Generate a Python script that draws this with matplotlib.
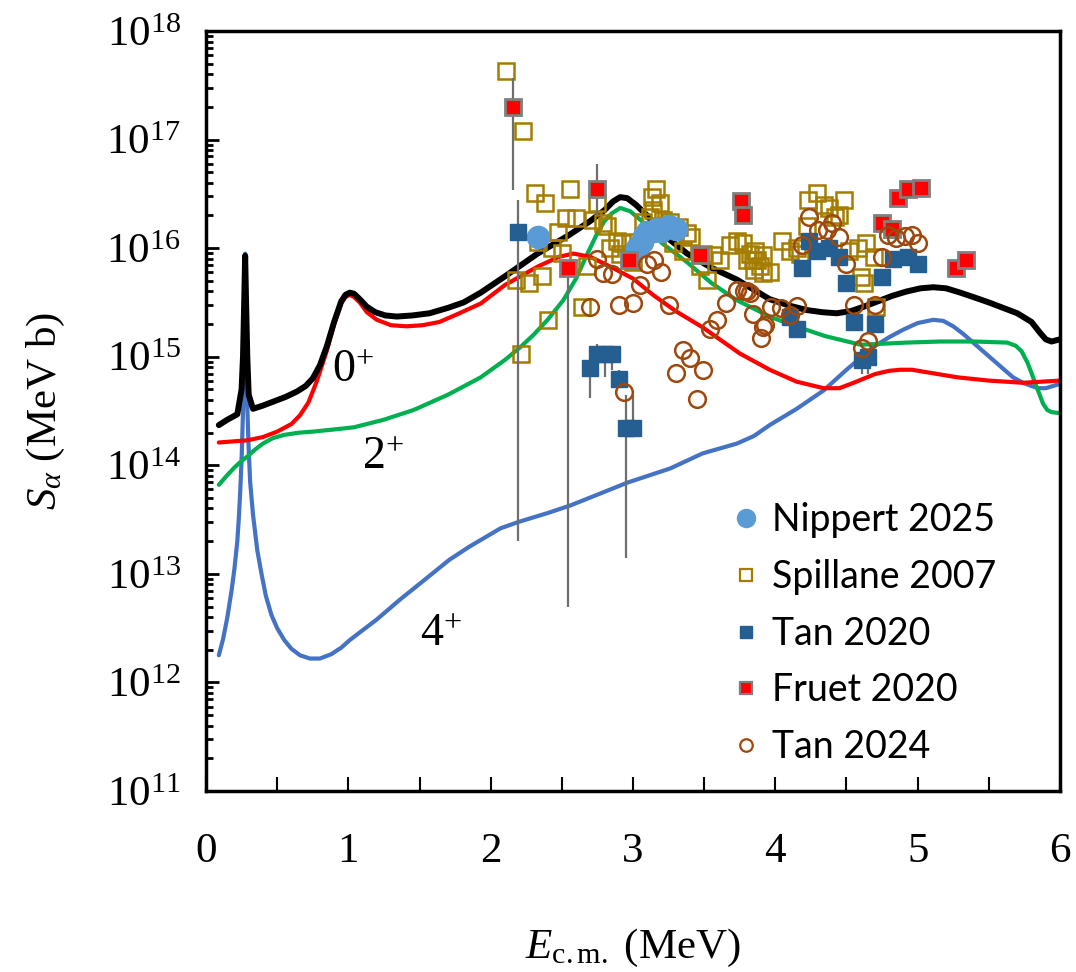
import numpy as np
import matplotlib
matplotlib.use("Agg")
import matplotlib.pyplot as plt
from matplotlib.lines import Line2D
from matplotlib.ticker import FixedLocator, LogLocator, NullFormatter

plt.rcParams['mathtext.fontset'] = 'custom'
plt.rcParams['mathtext.rm'] = 'Liberation Serif'
plt.rcParams['mathtext.it'] = 'Liberation Serif:italic'

# ---- model curves: energy (MeV) and log10 S (MeV b) ----
tot_x = [0.09, 0.15, 0.22, 0.25, 0.26, 0.27, 0.275, 0.28, 0.29, 0.30, 0.33, 0.40, 0.48, 0.56,
         0.64, 0.70, 0.75, 0.80, 0.85, 0.90, 0.95, 0.98, 1.01, 1.04, 1.08, 1.13, 1.19, 1.26,
         1.34, 1.45, 1.57, 1.70, 1.81, 1.93, 2.10, 2.33, 2.55, 2.70, 2.80, 2.86, 2.91, 2.96,
         3.02, 3.10, 3.20, 3.38, 3.55, 3.73, 3.96, 4.10, 4.22, 4.33, 4.43, 4.53, 4.62, 4.72,
         4.82, 4.92, 5.02, 5.11, 5.20, 5.30, 5.39, 5.50, 5.60, 5.70, 5.80, 5.86, 5.90, 5.94,
         6.0]
tot_lg = [14.37, 14.42, 14.47, 14.70, 15.00, 15.60, 15.93, 15.60, 15.00, 14.65, 14.52, 14.55,
          14.59, 14.63, 14.68, 14.73, 14.80, 14.92, 15.10, 15.32, 15.51, 15.57, 15.59, 15.58,
          15.53, 15.46, 15.41, 15.38, 15.37, 15.38, 15.40, 15.45, 15.50, 15.59, 15.74, 15.95,
          16.12, 16.25, 16.35, 16.43, 16.47, 16.46, 16.40, 16.30, 16.14, 15.95, 15.82, 15.71,
          15.53, 15.47, 15.43, 15.41, 15.40, 15.42, 15.46, 15.51, 15.56, 15.60, 15.63, 15.64,
          15.63, 15.59, 15.55, 15.50, 15.45, 15.40, 15.32, 15.22, 15.16, 15.14, 15.16]

s0_x = [0.09, 0.29, 0.40, 0.50, 0.60, 0.66, 0.72, 0.78, 0.85, 0.90, 0.95, 0.98, 1.01, 1.04,
        1.08, 1.13, 1.20, 1.30, 1.41, 1.52, 1.64, 1.78, 1.93, 2.10, 2.33, 2.48, 2.58, 2.70,
        2.84, 3.0, 3.14, 3.30, 3.49, 3.75, 3.96, 4.15, 4.34, 4.45, 4.55, 4.70, 4.80, 4.88,
        4.96, 5.05, 5.28, 5.50, 5.74, 6.0]
s0_lg = [14.21, 14.23, 14.26, 14.31, 14.38, 14.46, 14.58, 14.78, 15.06, 15.30, 15.49, 15.55,
         15.57, 15.55, 15.50, 15.41, 15.34, 15.29, 15.28, 15.29, 15.32, 15.40, 15.49, 15.66,
         15.83, 15.92, 15.95, 15.92, 15.83, 15.72, 15.57, 15.42, 15.27, 15.03, 14.88, 14.77,
         14.71, 14.71, 14.76, 14.84, 14.87, 14.88, 14.88, 14.86, 14.81, 14.78, 14.76, 14.78]

s2_x = [0.09, 0.15, 0.20, 0.25, 0.29, 0.34, 0.40, 0.47, 0.55, 0.65, 0.75, 0.90, 1.04, 1.25,
        1.46, 1.70, 1.93, 2.10, 2.21, 2.30, 2.40, 2.51, 2.60, 2.68, 2.75, 2.80, 2.85, 2.91,
        2.98, 3.07, 3.20, 3.38, 3.55, 3.73, 3.96, 4.10, 4.35, 4.60, 4.92, 5.16, 5.40, 5.63,
        5.69, 5.73, 5.77, 5.80, 5.83, 5.86, 5.88, 5.91, 5.94, 6.0]
s2_lg = [13.82, 13.91, 13.98, 14.04, 14.08, 14.14, 14.20, 14.25, 14.28, 14.30, 14.31, 14.33,
         14.35, 14.42, 14.51, 14.65, 14.81, 14.97, 15.09, 15.20, 15.34, 15.52, 15.72, 15.95,
         16.14, 16.25, 16.32, 16.37, 16.34, 16.24, 16.05, 15.87, 15.68, 15.52, 15.37, 15.30,
         15.19, 15.11, 15.13, 15.14, 15.14, 15.13, 15.10, 15.05, 14.95, 14.85, 14.74, 14.64,
         14.57, 14.51, 14.49, 14.48]

s4_x = [0.09, 0.12, 0.15, 0.18, 0.20, 0.22, 0.23, 0.24, 0.25, 0.26, 0.265, 0.27, 0.275, 0.28,
        0.285, 0.29, 0.30, 0.31, 0.33, 0.36, 0.39, 0.42, 0.46, 0.50, 0.55, 0.60, 0.66, 0.73,
        0.80, 0.88, 0.95, 1.01, 1.10, 1.20, 1.36, 1.55, 1.71, 1.85, 2.07, 2.20, 2.40, 2.56,
        2.77, 2.96, 3.26, 3.49, 3.73, 3.85, 3.96, 4.15, 4.34, 4.50, 4.69, 4.80, 4.90, 5.00,
        5.11, 5.18, 5.25, 5.32, 5.39, 5.46, 5.53, 5.60, 5.67, 5.74, 5.80, 5.85, 5.90, 5.95,
        6.0]
s4_lg = [12.25, 12.40, 12.60, 12.85, 13.05, 13.30, 13.50, 13.75, 14.05, 14.50, 14.90, 15.40,
         15.95, 15.40, 14.90, 14.55, 14.15, 13.85, 13.55, 13.22, 13.00, 12.80, 12.62, 12.50,
         12.39, 12.31, 12.25, 12.22, 12.22, 12.26, 12.32, 12.39, 12.48, 12.58, 12.76, 12.96,
         13.13, 13.25, 13.42, 13.48, 13.56, 13.63, 13.74, 13.84, 13.97, 14.11, 14.20, 14.27,
         14.37, 14.52, 14.69, 14.88, 15.09, 15.18, 15.25, 15.31, 15.34, 15.33, 15.28, 15.21,
         15.13, 15.05, 14.97, 14.89, 14.81, 14.76, 14.73, 14.71, 14.71, 14.73, 14.75]

# ---- data sets ----
nip_x = [2.33, 3.03, 3.06, 3.08, 3.10, 3.14, 3.17, 3.20, 3.25, 3.30]
nip_y = [1.26e16, 1.0e16, 1.15e16, 1.3e16, 1.4e16, 1.45e16, 1.5e16, 1.45e16, 1.6e16, 1.5e16]

spi_x = [2.11, 2.23, 2.31, 2.38, 2.56, 2.75, 2.53, 2.60, 2.47, 2.33, 2.43, 2.50, 2.72, 2.79,
         2.82, 2.68, 2.18, 2.27, 2.36, 2.64, 2.40, 2.21, 2.84, 2.91, 2.98, 2.89, 2.92, 2.98,
         3.00, 3.07, 3.12, 3.14, 3.16, 3.13, 3.19, 3.21, 3.26, 3.32, 3.38, 3.41, 3.28, 3.35,
         3.49, 3.56, 3.61, 3.47, 3.52, 3.68, 3.73, 3.77, 3.82, 3.87, 3.91, 3.85, 3.91, 3.86,
         3.80, 3.84, 3.89, 3.96, 4.05, 4.10, 4.15, 4.17, 4.29, 4.23, 4.34, 4.38, 4.48, 4.45,
         4.42, 4.22, 4.52, 4.58, 4.64, 4.69, 4.60, 4.62, 4.71]
spi_y = [4.3e17, 1.2e17, 3.2e16, 2.6e16, 3.5e16, 2.6e16, 1.9e16, 1.9e16, 1.4e16, 1.15e16,
         1.0e16, 9.1e15, 1.8e16, 1.7e16, 1.6e16, 6.8e15, 5.1e15, 4.8e15, 5.5e15, 2.9e15,
         2.2e15, 1.05e15, 1.0e16, 8.9e15, 8.3e15, 1.17e16, 1.12e16, 1.15e16, 7.4e15, 1.74e16,
         1.95e16, 2.24e16, 3.5e16, 2.95e16, 2.6e16, 1.8e16, 1.74e16, 1.55e16, 1.38e16,
         1.26e16, 1.12e16, 9.5e15, 8.9e15, 8.7e15, 7.8e15, 6.8e15, 5.1e15, 1.07e16, 1.17e16,
         1.12e16, 8.9e15, 7.8e15, 8.7e15, 6.3e15, 5.9e15, 9.5e15, 7.8e15, 7.8e15, 6.8e15,
         6.0e15, 1.17e16, 9.5e15, 1.0e16, 8.9e15, 3.2e16, 2.75e16, 2.5e16, 2.35e16, 2.75e16,
         2.0e16, 1.95e16, 1.6e16, 9.5e15, 1.0e16, 1.12e16, 8.3e15, 5.4e15, 4.8e15, 2.9e15]

t20_x = [2.19, 2.70, 2.75, 2.80, 2.85, 2.90, 2.95, 3.00, 4.10, 4.15, 4.19, 4.24, 4.29, 4.38,
         4.45, 4.50, 4.55, 4.61, 4.65, 4.70, 4.75, 4.83, 4.93, 5.00]
t20_y = [1.4e16, 7.9e14, 1.07e15, 1.07e15, 1.07e15, 6.2e14, 2.2e14, 2.2e14, 2.3e15, 1.8e15,
         6.6e15, 1.17e16, 9.5e15, 1.0e16, 8.3e15, 4.8e15, 2.1e15, 9.4e14, 1.0e15, 2.0e15,
         5.4e15, 8.0e15, 8.3e15, 7.2e15]
t20_lo = [2e13, 4.2e14, 1.07e15, 6.5e14, 7.5e14, 6.2e14, 1.4e13, 2.2e14, 2.3e15, 1.8e15,
          6.6e15, 1.17e16, 9.5e15, 1.0e16, 8.3e15, 4.8e15, 2.1e15, 7.0e14, 7.0e14, 2.0e15,
          5.4e15, 8.0e15, 8.3e15, 7.2e15]
t20_hi = [2.8e16, 7.9e14, 1.3e15, 1.07e15, 1.25e15, 7.5e14, 4.4e14, 4.4e14, 2.3e15, 1.8e15,
          6.6e15, 1.17e16, 9.5e15, 1.0e16, 8.3e15, 4.8e15, 2.1e15, 9.4e14, 1.0e15, 2.0e15,
          5.4e15, 8.0e15, 8.3e15, 7.2e15]

fru_x = [2.16, 2.54, 2.75, 2.97, 3.47, 3.76, 3.77, 4.75, 4.82, 4.86, 4.93, 5.02, 5.27, 5.34]
fru_y = [2.0e17, 6.6e15, 3.5e16, 7.8e15, 8.7e15, 2.7e16, 2.0e16, 1.7e16, 1.5e16, 2.9e16,
         3.5e16, 3.6e16, 6.6e15, 7.7e15]
fru_lo = [3.4e16, 4.9e12, 2.0e16, 7.8e15, 8.7e15, 2.7e16, 2.0e16, 1.7e16, 1.5e16, 2.9e16,
          3.5e16, 3.6e16, 6.6e15, 7.7e15]
fru_hi = [3.7e17, 6.6e15, 5.9e16, 7.8e15, 8.7e15, 2.7e16, 2.0e16, 1.7e16, 1.5e16, 2.9e16,
          3.5e16, 3.6e16, 6.6e15, 7.7e15]

t24_x = [2.75, 2.79, 2.85, 3.10, 3.15, 3.20, 3.05, 2.70, 2.90, 3.00, 3.25, 3.54, 3.59, 3.65,
         3.73, 3.80, 3.84, 3.91, 3.90, 3.35, 3.40, 3.30, 3.49, 3.45, 2.94, 3.78, 3.82, 3.93,
         3.97, 4.04, 4.10, 4.15, 4.19, 4.24, 4.30, 4.36, 4.40, 4.45, 4.50, 4.75, 4.55, 4.70,
         4.61, 4.65, 4.79, 4.85, 4.91, 4.96, 5.00]
t24_y = [8.0e15, 5.9e15, 5.8e15, 7.2e15, 7.8e15, 6.0e15, 4.6e15, 2.9e15, 3.0e15, 3.1e15,
         3.0e15, 1.8e15, 2.2e15, 3.1e15, 4.1e15, 4.0e15, 2.5e15, 1.86e15, 1.5e15, 1.15e15,
         9.8e14, 7.1e14, 7.6e14, 4.1e14, 4.7e14, 4.0e15, 3.9e15, 1.95e15, 2.9e15, 2.8e15,
         2.4e15, 2.95e15, 1.07e16, 1.95e16, 1.48e16, 1.48e16, 1.7e16, 1.26e16, 7.2e15, 8.3e15,
         3.0e15, 3.0e15, 1.2e15, 1.4e15, 1.32e16, 1.23e16, 1.29e16, 1.32e16, 1.12e16]

labels = ['Nippert 2025', 'Spillane 2007', 'Tan 2020', 'Fruet 2020', 'Tan 2024']

c_nip, c_spi, c_t20, c_fru, c_t24 = '#5B9BD5', '#A47D00', '#255E91', '#FF0000', '#9E480E'

fig = plt.figure(figsize=(10.76, 9.72), dpi=100)
ax = fig.add_axes([206 / 1076, 1 - 791 / 972, 854 / 1076, 760 / 972])
ax.set_yscale('log')

ax.plot(s4_x, np.power(10.0, s4_lg), color='#4472C4', lw=3.0, zorder=2, solid_capstyle='round')
ax.plot(s2_x, np.power(10.0, s2_lg), color='#00B050', lw=3.0, zorder=2, solid_capstyle='round')
ax.plot(s0_x, np.power(10.0, s0_lg), color='#FF0000', lw=3.0, zorder=2, solid_capstyle='round')
ax.plot(tot_x, np.power(10.0, tot_lg), color='black', lw=4.3, zorder=2.5, solid_capstyle='round')

err_kw = dict(ecolor='#6E6E6E', elinewidth=1.6, capsize=0, ls='none')
ax.plot(spi_x, spi_y, 's', ms=11, mfc='none', mec=c_spi, mew=1.8, zorder=3)
ax.plot(nip_x, nip_y, 'o', ms=16, color=c_nip, mec=c_nip, zorder=3.5)
t20_err = [np.array(t20_y) - np.array(t20_lo), np.array(t20_hi) - np.array(t20_y)]
ax.errorbar(t20_x, t20_y, yerr=t20_err, fmt='s', ms=11, color=c_t20, mec=c_t20,
            zorder=5, **err_kw)
fru_err = [np.array(fru_y) - np.array(fru_lo), np.array(fru_hi) - np.array(fru_y)]
ax.errorbar(fru_x, fru_y, yerr=fru_err, fmt='s', ms=11, mfc=c_fru, mec='#7F7F7F', mew=2,
            zorder=6, **err_kw)
ax.plot(t24_x, t24_y, 'o', ms=12, mfc='none', mec=c_t24, mew=1.8, zorder=7)

ax.set_xlim(0, 6)
ax.set_ylim(1e11, 1e18)
ax.xaxis.set_major_locator(FixedLocator([0, 1, 2, 3, 4, 5, 6]))
ax.xaxis.set_minor_locator(FixedLocator([0.5, 1.5, 2.5, 3.5, 4.5, 5.5]))
ax.yaxis.set_major_locator(FixedLocator([10.0 ** k for k in range(11, 19)]))
ax.yaxis.set_minor_locator(LogLocator(base=10, subs=np.arange(2, 10), numticks=20))
ax.yaxis.set_minor_formatter(NullFormatter())
ax.set_yticklabels([f'$10^{{{k}}}$' for k in range(11, 19)])
ax.set_xticklabels([str(k) for k in range(7)])

serif = 'Liberation Serif'
ax.tick_params(axis='x', which='both', direction='in', length=10, width=1.5, pad=30,
               labelsize=31, labelfontfamily=serif)
ax.tick_params(axis='y', which='major', direction='in', length=9, width=2, pad=18,
               labelsize=31, labelfontfamily=serif)
ax.tick_params(axis='y', which='minor', direction='in', length=5, width=2)
ax.tick_params(top=False, right=False, which='both')
for sp in ax.spines.values():
    sp.set_linewidth(2.5)

ax.set_xlabel(r'$E_{\mathrm{c.m.}}$ (MeV)', fontsize=31, family=serif, labelpad=40)
ax.set_ylabel(r'$S_{\alpha}$ (MeV b)', fontsize=31, family=serif, labelpad=28)

ax.text(1.03, 7.6e14, r'$0^{+}$', fontsize=33, ha='center', va='center')
ax.text(1.24, 1.2e14, r'$2^{+}$', fontsize=33, ha='center', va='center')
ax.text(1.65, 2.8e12, r'$4^{+}$', fontsize=33, ha='center', va='center')

handles = [
    Line2D([], [], ls='none', marker='o', ms=13, color=c_nip),
    Line2D([], [], ls='none', marker='s', ms=9, mfc='none', mec=c_spi, mew=1.6),
    Line2D([], [], ls='none', marker='s', ms=9, color=c_t20),
    Line2D([], [], ls='none', marker='s', ms=9, mfc=c_fru, mec='#7F7F7F', mew=1.6),
    Line2D([], [], ls='none', marker='o', ms=9, mfc='none', mec=c_t24, mew=1.6),
]
ax.legend(handles, labels, loc='center left', bbox_to_anchor=(0.612, 0.207), frameon=False,
          prop={'family': 'Lato', 'size': 27}, handlelength=0.95,
          handletextpad=0.2, labelspacing=0.55, borderpad=0, borderaxespad=0)

fig.savefig('out.png', dpi=100)
